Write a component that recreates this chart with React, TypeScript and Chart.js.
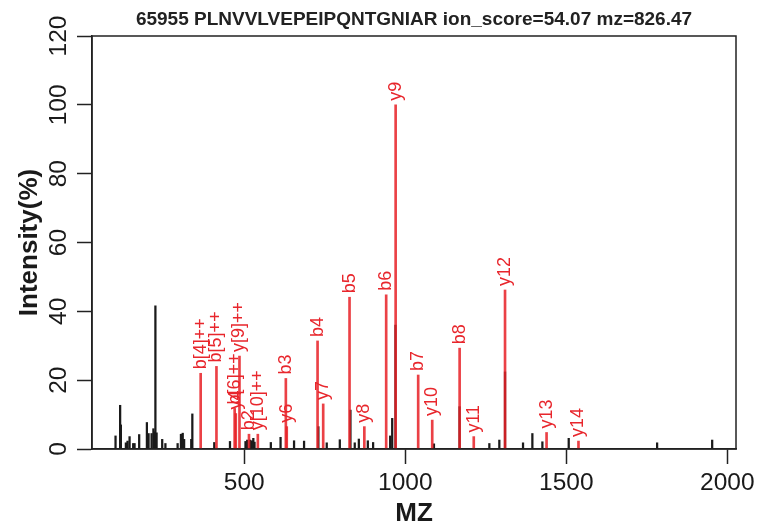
import React, { useEffect, useRef } from "react";
import { Chart, registerables } from "chart.js";

Chart.register(...registerables);

const TITLE = "65955 PLNVVLVEPEIPQNTGNIAR ion_score=54.07 mz=826.47";
const X_TITLE = "MZ";
const Y_TITLE = "Intensity(%)";
const X_TICKS = [500, 1000, 1500, 2000];
const Y_TICKS = [0, 20, 40, 60, 80, 100, 120];

// unmatched (black) peaks
const unmatchedMz = [
  100.1, 114.4, 116.6, 132.2, 137.4, 143.7, 154.9, 159.2, 173.5, 197.5,
  202.7, 212.1, 217.7, 220.8, 223.9, 227.6, 245.0, 255.0, 292.9, 303.2,
  308.8, 313.1, 335.2, 338.6, 406.7, 455.5, 503.7, 509.0, 517.7, 523.3,
  528.0, 531.7, 582.4, 612.6, 654.5, 685.6, 730.0, 756.0, 796.6, 829.6,
  843.0, 855.7, 883.6, 900.0, 953.0, 959.3, 969.6, 1089.0, 1168.6, 1261.0,
  1292.0, 1309.7, 1365.6, 1394.6, 1425.7, 1507.5, 1782.0, 1953.0,
];
const unmatchedIntensity = [
  3.8, 12.7, 7.0, 1.8, 2.3, 3.6, 1.6, 1.6, 4.2, 7.7,
  4.5, 4.5, 5.9, 5.0, 41.6, 4.7, 2.8, 1.6, 1.6, 4.3,
  4.6, 2.8, 2.8, 10.2, 1.9, 2.2, 2.2, 2.6, 2.6, 2.4,
  3.1, 2.0, 1.9, 3.4, 2.4, 2.3, 6.5, 1.8, 2.7, 11.3,
  1.8, 2.9, 2.4, 1.9, 3.8, 8.9, 36.0, 1.5, 12.3, 1.6,
  2.6, 22.4, 1.8, 4.5, 2.1, 3.1, 1.8, 2.6,
];

// matched (red) peaks with ion labels
const matchedMz = [
  364.5, 413.5, 470.0, 473.5, 485.0, 514.5, 542.0, 629.0, 631.8, 727.5,
  745.0, 826.8, 872.8, 940.6, 970.0, 1040.0, 1083.6, 1168.7, 1212.6, 1309.7,
  1438.7, 1537.8,
];
const matchedIntensity = [
  22.0, 24.0, 11.8, 10.3, 27.0, 4.3, 4.3, 20.5, 6.5, 31.4,
  13.1, 44.1, 6.5, 44.8, 100, 21.5, 8.4, 29.3, 3.6, 46.2,
  4.8, 2.3,
];
const matchedLabels = [
  "b[4]++", "b[5]++", "b[6]++", "y4", "y[9]++", "b2", "y[10]++", "b3", "y6", "b4",
  "y7", "b5", "y8", "b6", "y9", "b7", "y10", "b8", "y11", "y12",
  "y13", "y14",
];

const FONT = "'Liberation Sans', Arial, Helvetica, sans-serif";
const AXIS_COLOR = "#222222";
const RED = "#E8262C";

const ionLabelPlugin = {
  id: "ionLabels",
  afterDatasetsDraw(chart: any) {
    const { ctx } = chart;
    const x = chart.scales.x;
    const y = chart.scales.y;
    ctx.save();
    ctx.fillStyle = RED;
    ctx.font = `18px ${FONT}`;
    ctx.textAlign = "left";
    ctx.textBaseline = "middle";
    matchedMz.forEach((mz, i) => {
      const px = x.getPixelForValue(mz);
      const py = y.getPixelForValue(matchedIntensity[i]);
      ctx.save();
      ctx.translate(px, py - 4);
      ctx.rotate(-Math.PI / 2);
      ctx.fillText(matchedLabels[i], 0, 0);
      ctx.restore();
    });
    ctx.restore();
  },
};

const framePlugin = {
  id: "frame",
  afterDraw(chart: any) {
    const { ctx, chartArea } = chart;
    ctx.save();
    ctx.strokeStyle = AXIS_COLOR;
    ctx.lineWidth = 1.5;
    ctx.strokeRect(
      chartArea.left,
      chartArea.top,
      chartArea.right - chartArea.left,
      chartArea.bottom - chartArea.top
    );
    ctx.restore();
  },
};

export default function App() {
  const canvasRef = useRef<HTMLCanvasElement | null>(null);

  useEffect(() => {
    document.body.style.margin = "0";
    document.body.style.overflow = "hidden";
    const canvas = canvasRef.current;
    if (!canvas) return;
    const chart = new Chart(canvas, {
      type: "bar",
      data: {
        datasets: [
          {
            label: "unmatched",
            data: unmatchedMz.map((m, i) => ({ x: m, y: unmatchedIntensity[i] })),
            backgroundColor: "#1a1a1a",
            barThickness: 1.6,
            grouped: false,
            order: 1,
          } as any,
          {
            label: "matched",
            data: matchedMz.map((m, i) => ({ x: m, y: matchedIntensity[i] })),
            backgroundColor: "rgba(232, 34, 40, 0.86)",
            barThickness: 2,
            grouped: false,
            order: 0,
          } as any,
        ],
      },
      options: {
        animation: false,
        responsive: false,
        devicePixelRatio: 1,
        layout: { padding: { left: 0, right: 25, top: 0, bottom: 0 } },
        plugins: {
          legend: { display: false },
          tooltip: { enabled: false },
          title: {
            display: true,
            text: TITLE,
            fullSize: false,
            color: AXIS_COLOR,
            font: { family: FONT, size: 19, weight: "bold" },
            padding: { top: 8.6, bottom: 4.6 },
          },
        },
        scales: {
          x: {
            type: "linear",
            min: 27,
            max: 2027,
            offset: false,
            afterBuildTicks: (scale: any) => {
              scale.ticks = X_TICKS.map((v) => ({ value: v }));
            },
            afterFit: (scale: any) => {
              scale.height = 78;
            },
            grid: {
              display: true,
              offset: false,
              drawOnChartArea: false,
              drawTicks: true,
              tickLength: 15,
              tickColor: AXIS_COLOR,
              tickWidth: 1.5,
            },
            border: { display: true, color: AXIS_COLOR, width: 1.5 },
            ticks: {
              color: "#1a1a1a",
              font: { family: FONT, size: 24.5 },
              padding: 5,
              maxRotation: 0,
              minRotation: 0,
              autoSkip: false,
              callback: (v: any) => String(v),
            },
            title: {
              display: true,
              text: X_TITLE,
              color: "#1a1a1a",
              font: { family: FONT, size: 26, weight: "bold" },
              padding: { top: 0, bottom: -2 },
            },
          },
          y: {
            type: "linear",
            min: 0,
            max: 120,
            afterBuildTicks: (scale: any) => {
              scale.ticks = Y_TICKS.map((v) => ({ value: v }));
            },
            afterFit: (scale: any) => {
              scale.width = 92;
            },
            grid: {
              display: true,
              drawOnChartArea: false,
              drawTicks: true,
              tickLength: 15,
              tickColor: AXIS_COLOR,
              tickWidth: 1.5,
            },
            border: { display: true, color: AXIS_COLOR, width: 1.5 },
            ticks: {
              color: "#1a1a1a",
              font: { family: FONT, size: 24.5 },
              padding: -2.6,
              minRotation: 90,
              maxRotation: 90,
              crossAlign: "center",
              autoSkip: false,
              callback: (v: any) => String(v),
            },
            title: {
              display: true,
              text: Y_TITLE,
              color: "#1a1a1a",
              font: { family: FONT, size: 26, weight: "bold" },
              padding: { top: 14, bottom: 0 },
            },
          },
        },
      },
      plugins: [ionLabelPlugin, framePlugin],
    } as any);
    return () => chart.destroy();
  }, []);

  return (
    <div style={{ width: 761, height: 527, background: "#ffffff" }}>
      <canvas ref={canvasRef} width={761} height={527} style={{ display: "block" }} />
    </div>
  );
}
